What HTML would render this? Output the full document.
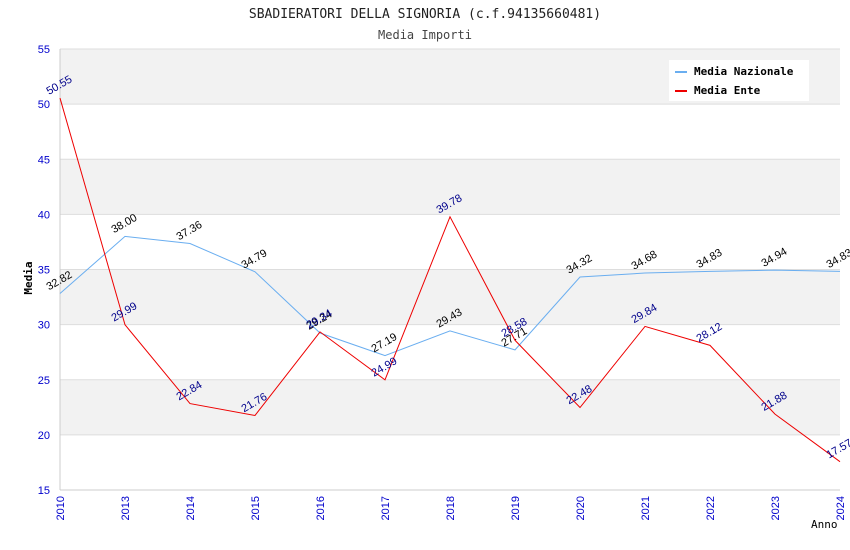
<!DOCTYPE html>
<html><head><meta charset="utf-8"><style>
body{margin:0;background:#fff;}
svg{display:block;font-family:"DejaVu Sans Mono","Liberation Mono",monospace;}
</style></head><body>
<svg id="c" width="850" height="550">
<text x="425" y="18" text-anchor="middle" font-size="13" fill="#222">SBADIERATORI DELLA SIGNORIA (c.f.94135660481)</text>
<text x="425" y="39" text-anchor="middle" font-size="12" fill="#444">Media Importi</text>
<g id="grid"></g><g id="axes"></g><g id="series"></g>
<g>
<rect x="669" y="60" width="140" height="41" fill="#fff"/>
<g><line x1="675" y1="72" x2="687" y2="72" stroke="#6aaef0" stroke-width="2"/><text x="694" y="75" font-size="11" font-weight="bold">Media Nazionale</text></g>
<g><line x1="675" y1="91" x2="687" y2="91" stroke="#e00" stroke-width="2"/><text x="694" y="94" font-size="11" font-weight="bold">Media Ente</text></g>
</g>
<text x="24" y="270" font-size="11" font-weight="bold" transform="rotate(-90 32 270)" text-anchor="middle">Media</text>
<text x="811" y="528" font-size="11">Anno</text>
</svg>
<script>
const categories=["2010","2013","2014","2015","2016","2017","2018","2019","2020","2021","2022","2023","2024"];
const nazionale=[32.82,38.00,37.36,34.79,29.24,27.19,29.43,27.71,34.32,34.68,34.83,34.94,34.83];
const ente=[50.55,29.99,22.84,21.76,29.34,24.99,39.78,28.58,22.48,29.84,28.12,21.88,17.57];
const yTicks=[15,20,25,30,35,40,45,50,55];
const NS="http://www.w3.org/2000/svg";
const X0=60,X1=840,Y0=490,Y1=49;
const xs=i=>X0+(X1-X0)*i/(categories.length-1);
const ys=v=>Y0-(v-15)/(55-15)*(Y0-Y1);
function mk(t,a,p){const e=document.createElementNS(NS,t);for(const k in a)e.setAttribute(k,a[k]);p.appendChild(e);return e;}
const grid=document.getElementById('grid'),axes=document.getElementById('axes'),ser=document.getElementById('series');
for(let i=0;i<yTicks.length-1;i++){
 const r=mk('rect',{x:X0,y:ys(yTicks[i+1]),width:X1-X0,height:ys(yTicks[i])-ys(yTicks[i+1]),fill:i%2==1?'#f2f2f2':'#fff'},grid);
 
 
}
yTicks.forEach(v=>{
 const l=mk('line',{x1:X0,x2:X1,y1:ys(v),y2:ys(v),stroke:'#ddd'},grid);
 
 
 const t=mk('text',{x:50,y:ys(v)+4,'text-anchor':'end','font-size':11,fill:'#00c','font-family':'Liberation Sans, sans-serif'},axes);
 t.textContent=v;
 
 
});
mk('line',{x1:X0,x2:X0,y1:Y1,y2:Y0,stroke:'#ccc'},axes);
mk('line',{x1:X0,x2:X1,y1:Y0,y2:Y0,stroke:'#ccc'},axes);
categories.forEach((c,i)=>{
 const t=mk('text',{x:xs(i)+4,y:Y0+6,'text-anchor':'end','font-size':11,fill:'#00c','font-family':'Liberation Sans, sans-serif',transform:`rotate(-90 ${xs(i)+4} ${Y0+6})`},axes);
 t.textContent=c;
 
 
});
function series(vals,color,lc,name){
 const p=mk('polyline',{points:vals.map((v,i)=>xs(i)+','+ys(v)).join(' '),fill:'none',stroke:color,'stroke-width':1},ser);
 
 
 vals.forEach((v,i)=>{
  const x=xs(i)-11,y=ys(v)-3;
  const t=mk('text',{x:x,y:y,'font-size':11,fill:lc,'font-family':'Liberation Sans, sans-serif',transform:`rotate(-30 ${x} ${y})`},ser);
  t.textContent=v.toFixed(2);
  
  
 });
}
series(nazionale,'#6aaef0','#000','nazionale');
series(ente,'#e00','#00008b','ente');
</script>
</body></html>
